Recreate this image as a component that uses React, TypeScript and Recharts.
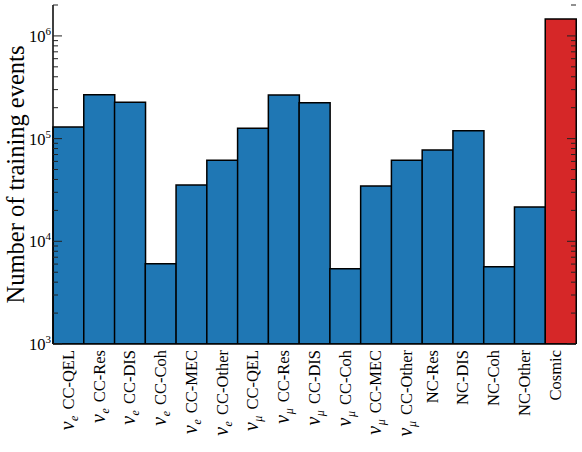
import { Bar, BarChart, Cell, XAxis, YAxis } from 'recharts';

const FONT = '"Liberation Serif", "DejaVu Serif", serif';

// neutrino flavour subscript ('' for NC / cosmic)
const flavours = ['e', 'e', 'e', 'e', 'e', 'e', 'μ', 'μ', 'μ', 'μ', 'μ', 'μ', '', '', '', '', ''];
const processes = [
  'CC-QEL', 'CC-Res', 'CC-DIS', 'CC-Coh', 'CC-MEC', 'CC-Other',
  'CC-QEL', 'CC-Res', 'CC-DIS', 'CC-Coh', 'CC-MEC', 'CC-Other',
  'NC-Res', 'NC-DIS', 'NC-Coh', 'NC-Other', 'Cosmic',
];
const counts = [
  130000, 267000, 226000, 6050, 35300, 61500,
  126000, 266000, 224000, 5400, 34500, 61500,
  77400, 119000, 5660, 21600, 1460000,
];

const yMajorTicks = [1e3, 1e4, 1e5, 1e6];
const yMax = 2e6;

const BLUE = '#1f77b4';
const RED = '#d62728';
const PLOT_W = 523;
const PLOT_H = 339;

const rows = processes.map((p, i) => ({
  key: `${flavours[i]}-${p}-${i}`,
  count: counts[i],
  fill: p === 'Cosmic' ? RED : BLUE,
}));

// tick marks: majors at bar centres, 5 subdivisions between
const xTicks: number[] = [];
for (let k = -2; k <= processes.length * 5 - 3; k++) xTicks.push(k / 5);

const yTicks: number[] = [];
yMajorTicks.forEach((d) => {
  for (let m = 1; m <= 9; m++) if (d * m <= yMax) yTicks.push(d * m);
});

function CatTick(props: any) {
  const { x, y, index } = props;
  const fl = flavours[index];
  return (
    <text
      transform={`translate(${x},${y + 6}) rotate(-90)`}
      textAnchor="end"
      dy="0.33em"
      fontSize={16.5}
      fontFamily={FONT}
      fill="#000"
    >
      {fl && (
        <tspan fontStyle="italic" fontSize={20}>
          ν
        </tspan>
      )}
      {fl && (
        <tspan fontStyle="italic" fontSize={12} dy={4} dx={0.5}>
          {fl}
        </tspan>
      )}
      <tspan dy={fl ? -4 : 0} dx={fl ? 6 : 0}>
        {processes[index]}
      </tspan>
    </text>
  );
}

function XMarkTick(props: any) {
  const { x, y, payload } = props;
  const major = Math.abs(payload.value - Math.round(payload.value)) < 1e-6;
  const len = major ? 9 : 5;
  return (
    <g stroke="#222" strokeWidth={1}>
      <line x1={x} x2={x} y1={y} y2={y + len} />
      <line x1={x} x2={x} y1={y + PLOT_H} y2={y + PLOT_H - len} />
    </g>
  );
}

function YMarkTick(props: any) {
  const { x, y, payload } = props;
  const v = payload.value;
  const exp = Math.round(Math.log10(v));
  const major = Math.abs(v - Math.pow(10, exp)) < 1e-6 * v;
  const len = major ? 9 : 5;
  return (
    <g>
      <line x1={x} x2={x + len} y1={y} y2={y} stroke="#222" strokeWidth={1} />
      <line x1={x + PLOT_W} x2={x + PLOT_W - len} y1={y} y2={y} stroke="#222" strokeWidth={1} />
      {major && (
        <text x={x - 2} y={y + 6} textAnchor="end" fontSize={16.5} fontFamily={FONT} fill="#000">
          10
          <tspan dy={-7} fontSize={11}>
            {exp}
          </tspan>
        </text>
      )}
    </g>
  );
}

const frame = { stroke: '#000', strokeWidth: 1.5 };

export default function App() {
  return (
    <div style={{ position: 'absolute', left: 0, top: 0, background: '#fff' }}>
      <BarChart
        width={582}
        height={452}
        data={rows}
        margin={{ top: 5, right: 6, bottom: 0, left: 0 }}
        barCategoryGap={0}
        style={{ fontFamily: FONT }}
      >
        <Bar
          xAxisId="cat"
          yAxisId="log"
          dataKey="count"
          stroke="#000"
          strokeWidth={1.5}
          isAnimationActive={false}
        >
          {rows.map((r) => (
            <Cell key={r.key} fill={r.fill} />
          ))}
        </Bar>
        <XAxis
          xAxisId="cat"
          dataKey="key"
          type="category"
          height={108}
          interval={0}
          tickSize={0}
          tickMargin={0}
          tickLine={false}
          axisLine={frame}
          tick={<CatTick />}
        />
        <XAxis
          xAxisId="grid"
          orientation="top"
          type="number"
          domain={[-0.5, processes.length - 0.5]}
          allowDataOverflow
          ticks={xTicks}
          interval={0}
          height={0}
          tickSize={0}
          tickMargin={0}
          tickLine={false}
          axisLine={frame}
          tick={<XMarkTick />}
        />
        <YAxis
          yAxisId="log"
          scale="log"
          domain={[1000, yMax]}
          allowDataOverflow
          ticks={yTicks}
          interval={0}
          width={53}
          tickSize={0}
          tickMargin={0}
          tickLine={false}
          axisLine={frame}
          tick={<YMarkTick />}
          label={{
            value: 'Number of training events',
            angle: -90,
            position: 'center',
            dx: -11,
            style: { fontSize: 24.5, fontFamily: FONT, fill: '#000' },
          }}
        />
        <YAxis yAxisId="right" orientation="right" width={0} tick={false} tickLine={false} axisLine={frame} />
      </BarChart>
    </div>
  );
}
